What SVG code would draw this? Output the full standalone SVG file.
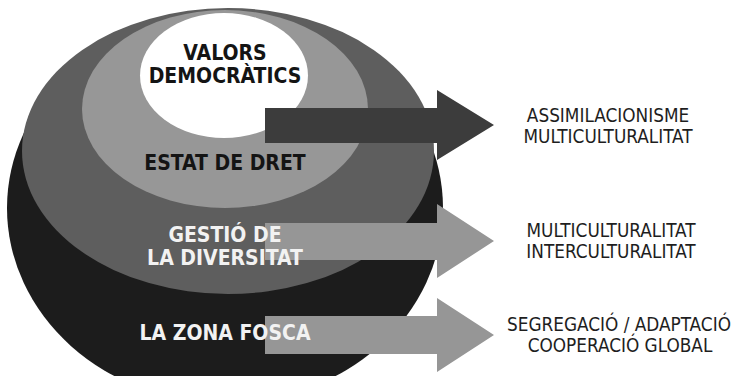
<svg xmlns="http://www.w3.org/2000/svg" width="735" height="376" viewBox="0 0 735 376">
<style>
.lbl{font-family:"DejaVu Sans Condensed","DejaVu Sans",sans-serif;font-weight:bold;font-size:21px;text-anchor:middle}
.dark{fill:#141414}
.light{fill:#f2f2f2}
.out{font-family:"DejaVu Sans Condensed","DejaVu Sans",sans-serif;font-size:18.8px;fill:#1e1e1e;text-anchor:middle}
</style>
<rect width="735" height="376" fill="#ffffff"/>
<g id="zona-fosca"><ellipse cx="225" cy="208" rx="218" ry="195" fill="#1c1c1c"/></g>
<g id="gestio-diversitat"><ellipse cx="228" cy="151" rx="206" ry="143" fill="#5e5e5e"/></g>
<g id="estat-dret"><ellipse cx="225" cy="109" rx="143" ry="99" fill="#979797"/></g>
<g id="valors"><ellipse cx="224" cy="75.5" rx="84" ry="62.5" fill="#ffffff"/></g>
<g id="connectors">
<polygon points="265,108 437,108 437,90 494,125 437,160 437,143 265,143" fill="#3c3c3c"/>
<polygon points="265,223 437,223 437,204 494,241 437,278 437,260 265,260" fill="#969696"/>
<polygon points="265,316 437,316 437,298 494,335 437,372 437,354 265,354" fill="#969696"/>
</g>
<g id="valors-text"><text class="lbl dark" x="225" y="60">VALORS</text><text class="lbl dark" x="225" y="83">DEMOCRÀTICS</text></g>
<g id="estat-text"><text class="lbl dark" x="225" y="170">ESTAT DE DRET</text></g>
<g id="gestio-text"><text class="lbl light" x="225" y="242">GESTIÓ DE</text><text class="lbl light" x="225" y="265">LA DIVERSITAT</text></g>
<g id="zona-text"><text class="lbl light" x="225" y="340">LA ZONA FOSCA</text></g>
<g id="out1"><text class="out" x="608" y="122">ASSIMILACIONISME</text><text class="out" x="608" y="143">MULTICULTURALITAT</text></g>
<g id="out2"><text class="out" x="611" y="237">MULTICULTURALITAT</text><text class="out" x="611" y="258">INTERCULTURALITAT</text></g>
<g id="out3"><text class="out" x="619" y="331">SEGREGACIÓ / ADAPTACIÓ</text><text class="out" x="620" y="352">COOPERACIÓ GLOBAL</text></g>
</svg>
